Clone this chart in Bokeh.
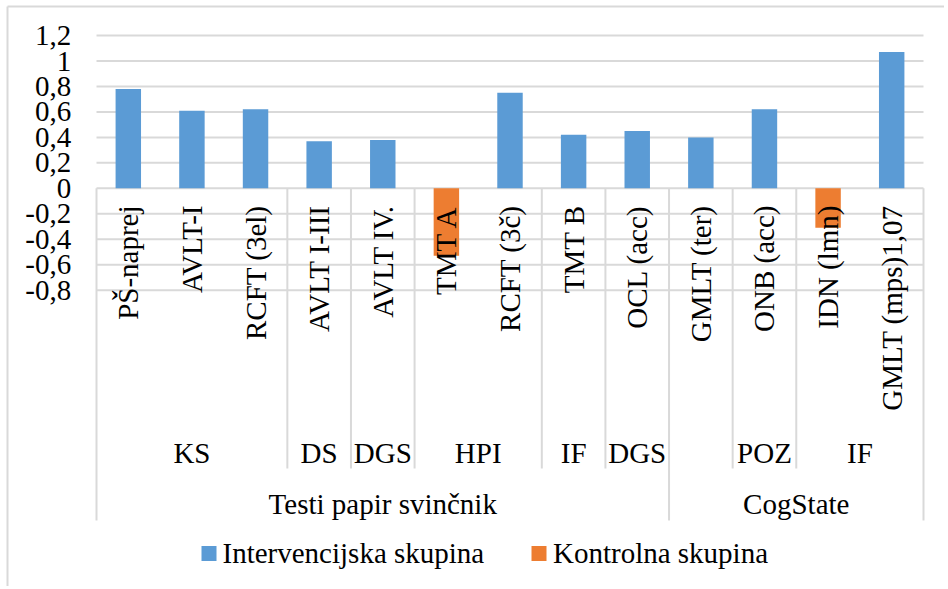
import math
from bokeh.plotting import figure
from bokeh.models import Range1d
from bokeh.core.properties import value
from bokeh.embed import file_html
from bokeh.resources import INLINE

nan = float("nan")

# ---------------- data ----------------
categories = ["PŠ-naprej", "AVLT-I", "RCFT (3el)", "AVLT I-III", "AVLT IV.", "TMT A",
              "RCFT (3č)", "TMT B", "OCL (acc)", "GMLT (ter)", "ONB (acc)", "IDN (lmn)",
              "GMLT (mps)1,07"]
intervencijska = [0.78, 0.61, 0.62, 0.37, 0.38, nan, 0.75, 0.42, 0.45, 0.40, 0.62, nan, 1.07]
kontrolna = [nan, nan, nan, nan, nan, -0.53, nan, nan, nan, nan, nan, -0.31, nan]
subgroups = ["KS", "DS", "DGS", "HPI", "IF", "DGS", "", "POZ", "IF"]
subgroup_sizes = [3, 1, 1, 2, 1, 1, 1, 1, 2]
groups = ["Testi papir svinčnik", "CogState"]
group_sizes = [9, 4]
y_ticks = [-0.8, -0.6, -0.4, -0.2, 0.0, 0.2, 0.4, 0.6, 0.8, 1.0, 1.2]
y_tick_labels = ["-0,8", "-0,6", "-0,4", "-0,2", "0", "0,2", "0,4", "0,6", "0,8", "1", "1,2"]
series_names = ["Intervencijska skupina", "Kontrolna skupina"]
series_colors = ["#5B9BD5", "#ED7D31"]

# ---------------- layout (page pixels) ----------------
W, H = 944, 586
OFF = 0
PLOT_L, PLOT_R = 96.0, 923.0
ZERO_Y = 187.8
PX_PER_UNIT = 127.3
N = len(categories)
UX = (PLOT_R - PLOT_L) / N


def dx(page_x):
    return (page_x - PLOT_L) / UX


def dy(page_y):
    return (ZERO_Y - page_y) / PX_PER_UNIT


FONT = value("Liberation Serif")
FS = "29px"
GRID = "#d9d9d9"

p = figure(width=W, height=H, output_backend="svg", toolbar_location=None,
           x_range=Range1d(dx(OFF), dx(OFF + W)), y_range=Range1d(dy(OFF + H), dy(OFF)),
           x_axis_type=None, y_axis_type=None,
           min_border=0, min_border_left=0, min_border_right=0,
           min_border_top=0, min_border_bottom=0)
p.outline_line_color = None
p.background_fill_color = "white"
p.border_fill_color = "white"
p.xgrid.visible = False
p.ygrid.visible = False

# outer chart border (top and left visible)
x_lo, x_hi = dx(OFF), dx(OFF + W)
y_lo, y_hi = dy(OFF + H), dy(OFF)
p.segment(x0=[dx(7)], x1=[dx(7)], y0=[dy(6)], y1=[y_lo],
          line_color=GRID, line_width=2)
p.segment(x0=[dx(7)], x1=[x_hi], y0=[dy(6)], y1=[dy(6)],
          line_color=GRID, line_width=2)

# horizontal gridlines
p.segment(x0=[0] * len(y_ticks), x1=[N] * len(y_ticks), y0=y_ticks, y1=y_ticks,
          line_color=GRID, line_width=2)

# category boundary lines
sub_bounds = [0]
for s in subgroup_sizes:
    sub_bounds.append(sub_bounds[-1] + s)
grp_bounds = [0]
for s in group_sizes:
    grp_bounds.append(grp_bounds[-1] + s)
inner = [b for b in sub_bounds if b not in grp_bounds]
p.segment(x0=inner, x1=inner, y0=[0] * len(inner), y1=[dy(468)] * len(inner),
          line_color=GRID, line_width=2)
p.segment(x0=grp_bounds, x1=grp_bounds, y0=[0] * len(grp_bounds),
          y1=[dy(520)] * len(grp_bounds), line_color=GRID, line_width=2)

# bars
centers = [i + 0.5 for i in range(N)]
p.vbar(x=centers, top=intervencijska, bottom=0, width=0.40,
       fill_color=series_colors[0], line_color=None)
p.vbar(x=centers, top=kontrolna, bottom=0, width=0.40,
       fill_color=series_colors[1], line_color=None)

# y tick labels
p.text(x=[dx(70.7)] * len(y_ticks), y=y_ticks, text=y_tick_labels,
       text_font=FONT, text_font_size=FS, text_align="right", text_baseline="middle",
       text_color="black")

# category labels (rotated)
p.text(x=centers, y=[dy(205)] * N, text=categories, angle=math.pi / 2,
       text_font=FONT, text_font_size=FS, text_align="right", text_baseline="middle",
       text_color="black")

# subgroup labels
sub_centers = [(sub_bounds[i] + sub_bounds[i + 1]) / 2 for i in range(len(subgroups))]
p.text(x=sub_centers, y=[dy(452)] * len(subgroups), text=subgroups,
       text_font=FONT, text_font_size=FS, text_align="center", text_baseline="middle",
       text_color="black")

# group labels
grp_centers = [(grp_bounds[i] + grp_bounds[i + 1]) / 2 for i in range(len(groups))]
p.text(x=grp_centers, y=[dy(503)] * len(groups), text=groups,
       text_font=FONT, text_font_size=FS, text_align="center", text_baseline="middle",
       text_color="black")

# legend
leg_sq_x = [dx(208.5), dx(538.5)]
leg_tx_x = [dx(222), dx(552.5)]
leg_y = dy(553)
p.scatter(x=leg_sq_x, y=[leg_y] * 2, marker="square", size=15,
          fill_color=series_colors, line_color=None)
p.text(x=leg_tx_x, y=[dy(552)] * 2, text=series_names,
       text_font=FONT, text_font_size=FS, text_align="left", text_baseline="middle",
       text_color="black")

open("out.html", "w").write(file_html(p, INLINE))
